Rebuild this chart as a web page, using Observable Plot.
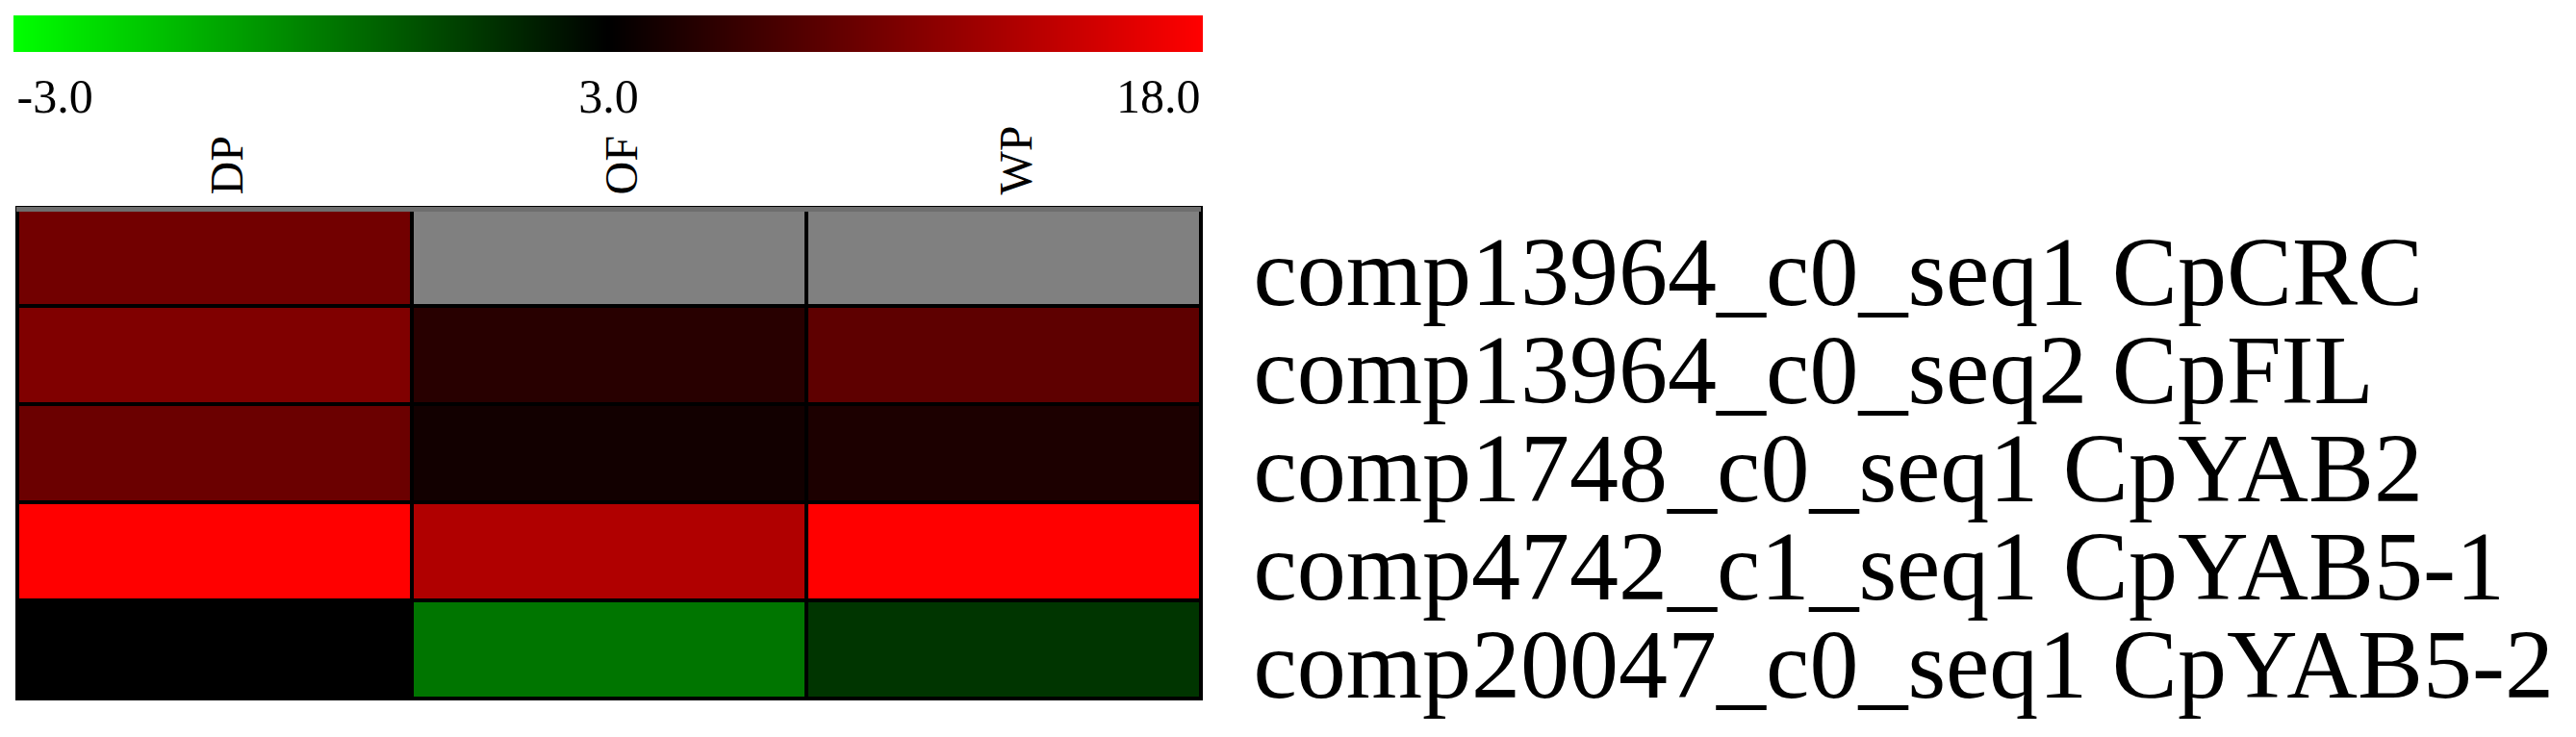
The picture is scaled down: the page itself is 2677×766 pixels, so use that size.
<!DOCTYPE html>
<html>
<head>
<meta charset="utf-8">
<script src="https://cdn.jsdelivr.net/npm/d3@7"></script>
<script src="https://cdn.jsdelivr.net/npm/@observablehq/plot@0.6"></script>
<style>
  html, body { margin: 0; padding: 0; background: #ffffff; }
  #chart { width: 2677px; height: 766px; overflow: hidden; background: #ffffff; }
  #chart svg { display: block; }
</style>
</head>
<body>
<div id="chart"></div>
<script>
// ---- data ----
const genes = [
  "comp13964_c0_seq1 CpCRC",
  "comp13964_c0_seq2 CpFIL",
  "comp1748_c0_seq1 CpYAB2",
  "comp4742_c1_seq1 CpYAB5-1",
  "comp20047_c0_seq1 CpYAB5-2"
];
const samples = ["DP", "OF", "WP"];
const valuesDP = [9.7, 10.5, 9.3, 18.0, 3.0];
const valuesOF = [null, 5.35, 4.05, 13.35, 0.25];
const valuesWP = [null, 8.5, 4.65, 18.0, 1.75];
const scaleTicks = [-3, 3, 18];
const scaleColors = ["#00ff00", "#000000", "#ff0000"];

const columns = {DP: valuesDP, OF: valuesOF, WP: valuesWP};
const table = [];
for (const s of samples) {
  genes.forEach((g, i) => table.push({gene: g, sample: s, value: columns[s][i]}));
}

const colorOptions = {
  type: "diverging",
  domain: [scaleTicks[0], scaleTicks[2]],
  pivot: scaleTicks[1],
  symmetric: false,
  range: scaleColors,
  interpolate: "rgb",
  unknown: "#808080"
};

const serif = "'Liberation Serif', 'Times New Roman', serif";

// ---- legend (color bar) ----
const legend = Plot.legend({
  color: colorOptions,
  width: 1264,
  height: 130,
  marginLeft: 14,
  marginRight: 14,
  marginTop: 16,
  marginBottom: 76,
  ticks: scaleTicks,
  tickFormat: d => d.toFixed(1),
  label: null
});
const lg = d3.select(legend);
lg.style("background", "#ffffff").style("max-width", "none");
lg.selectAll(".tick line").remove();
lg.selectAll(".domain").remove();
const tickTexts = lg.selectAll(".tick text");
const nT = tickTexts.size();
tickTexts
  .attr("y", 63)
  .attr("dy", 0)
  .attr("fill", "#000000")
  .style("font-family", serif)
  .style("font-size", "50px")
  .attr("text-anchor", (d, i) => i === 0 ? "start" : i === nT - 1 ? "end" : "middle")
  .attr("dx", (d, i) => i === 0 ? 3 : i === nT - 1 ? -3 : 0);
document.getElementById("chart").appendChild(legend);

// ---- heatmap ----
const chart = Plot.plot({
  width: 2677,
  height: 636,
  marginLeft: 17,
  marginRight: 1429,
  marginTop: 84,
  marginBottom: 39,
  x: {domain: samples, axis: null, padding: 0},
  y: {domain: genes, axis: null, padding: 0},
  color: colorOptions,
  style: {fontFamily: serif, color: "#000000", background: "#ffffff"},
  marks: [
    Plot.cell(table.filter(d => d.value == null), {
      x: "sample", y: "gene", fill: "#808080", stroke: "#000000", strokeWidth: 4
    }),
    Plot.cell(table.filter(d => d.value != null), {
      x: "sample", y: "gene", fill: "value", stroke: "#000000", strokeWidth: 4
    }),
    Plot.ruleY([genes[0]], {y: d => d, dy: -50, stroke: "#6e6e6e", strokeWidth: 5}),
    Plot.text(samples, {
      x: d => d, frameAnchor: "top", rotate: -90, textAnchor: "start",
      dy: -12, dx: -6, fontSize: 48, fill: "#000000", fontFamily: serif
    }),
    Plot.text(genes, {
      y: d => d, frameAnchor: "right", textAnchor: "start",
      dx: 54, dy: 17, fontSize: 102, fill: "#000000", fontFamily: serif
    })
  ]
});
document.getElementById("chart").appendChild(chart);
</script>
</body>
</html>
